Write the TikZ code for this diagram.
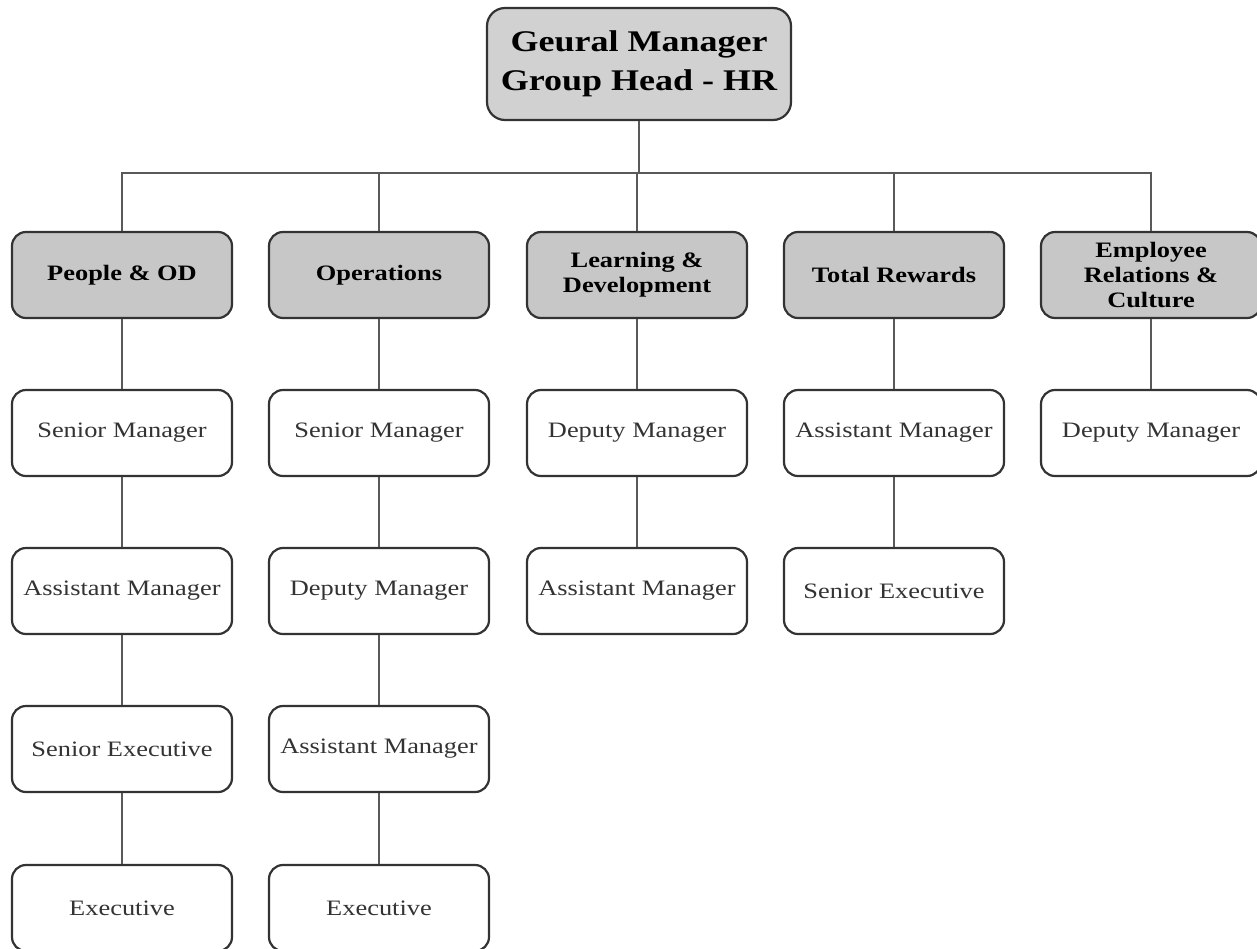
\documentclass[tikz,border=0pt]{standalone}
\usepackage{fontspec}
\setmainfont{Liberation Serif}[FakeStretch=1.2]
\begin{document}
\begin{tikzpicture}[x=1pt,y=-1pt,
  box/.style={draw=black!80, line width=2.2pt, rounded corners=14pt, minimum width=220pt, minimum height=86pt, inner sep=2pt, align=center, text=black!80, font=\fontsize{22}{25}\selectfont, fill=white},
  dept/.style={box, fill=black!22, text=black, font=\fontsize{22}{25}\selectfont\bfseries},
  head/.style={box, fill=black!18, text=black, minimum width=304pt, minimum height=112pt, rounded corners=18pt, font=\fontsize{30}{39}\selectfont\bfseries},
  conn/.style={draw=black!65, line width=2.6pt}]
\useasboundingbox (0,0) rectangle (1257,948);
\fill[white] (0,0) rectangle (1257,948);
\node[head] (top) at (639,64) {Geural Manager\\Group Head - HR};
\coordinate (bus) at (639,173);
% level 2
\node[dept] (pod) at (122,275) {People \& OD};
\node[dept] (ops) at (379,275) {Operations};
\node[dept] (ld)  at (637,275) {Learning \&\\Development};
\node[dept] (tr)  at (894,275) {Total Rewards};
\node[dept] (erc) at (1151,275) {Employee\\Relations \&\\Culture};
% column 1
\node[box] (p1) at (122,433) {Senior Manager};
\node[box] (p2) at (122,591) {Assistant Manager};
\node[box] (p3) at (122,749) {Senior Executive};
\node[box] (p4) at (122,908) {Executive};
% column 2
\node[box] (o1) at (379,433) {Senior Manager};
\node[box] (o2) at (379,591) {Deputy Manager};
\node[box] (o3) at (379,749) {Assistant Manager};
\node[box] (o4) at (379,908) {Executive};
% column 3
\node[box] (l1) at (637,433) {Deputy Manager};
\node[box] (l2) at (637,591) {Assistant Manager};
% column 4
\node[box] (t1) at (894,433) {Assistant Manager};
\node[box] (t2) at (894,591) {Senior Executive};
% column 5
\node[box] (e1) at (1151,433) {Deputy Manager};
% connectors
\foreach \n in {pod,ops,ld,tr,erc}
  \draw[conn] (top.south) -- (bus) -| (\n.north);
\foreach \a/\b in {pod/p1,p1/p2,p2/p3,p3/p4,ops/o1,o1/o2,o2/o3,o3/o4,ld/l1,l1/l2,tr/t1,t1/t2,erc/e1}
  \draw[conn] (\a.south) -- (\b.north);
\end{tikzpicture}
\end{document}
